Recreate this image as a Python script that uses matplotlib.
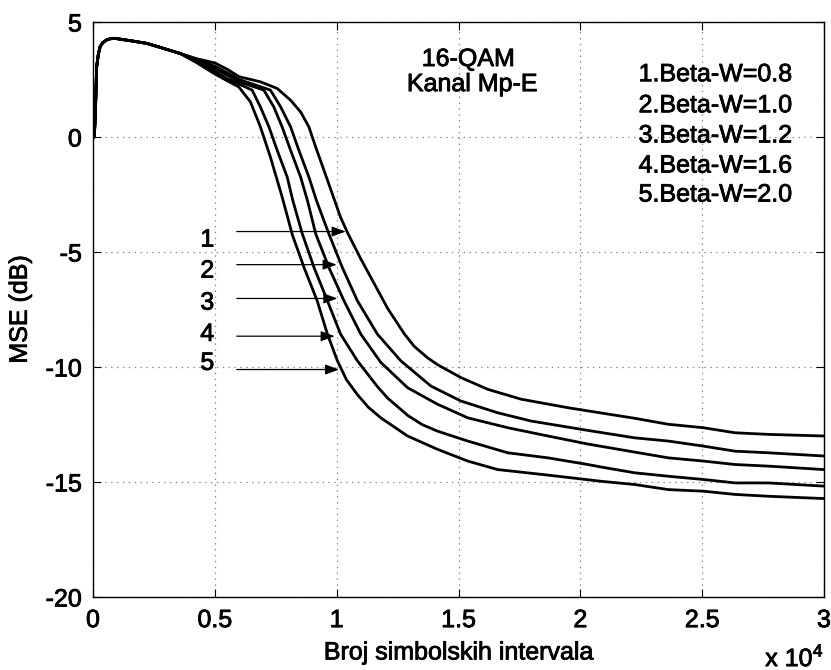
import matplotlib
matplotlib.use("Agg")
import matplotlib.pyplot as plt
import matplotlib.patheffects as pe
from matplotlib.text import Text

plt.rcParams['font.family'] = ['Liberation Sans', 'DejaVu Sans']
plt.rcParams['mathtext.fontset'] = 'custom'
plt.rcParams['mathtext.rm'] = 'Liberation Sans'

# x in units of 10^4 symbol intervals, y in dB
x_start = [0.0, 0.005, 0.009, 0.015, 0.022, 0.029, 0.04, 0.056, 0.07, 0.09, 0.12, 0.152,
           0.221, 0.29, 0.358]
y_start = [0.0, 0.0, 0.8, 3.05, 3.6, 3.92, 4.1, 4.22, 4.27, 4.29, 4.24, 4.19,
           4.07, 3.85, 3.63]

x1 = [0.427, 0.5, 0.55, 0.6, 0.687, 0.756, 0.811, 0.852, 0.886, 0.914, 0.948, 0.982,
      1.016, 1.044, 1.099, 1.140, 1.209, 1.277, 1.318, 1.373, 1.414, 1.51, 1.62, 1.757,
      1.949, 2.086, 2.223, 2.361, 2.505, 2.635, 2.772, 3.0]
y1 = [3.40, 3.22, 2.95, 2.62, 2.40, 2.11, 1.60, 1.09, 0.44, -0.44, -1.45, -2.47,
      -3.49, -4.15, -5.3, -6.1, -7.45, -8.55, -9.1, -9.6, -9.9, -10.46, -10.97, -11.4,
      -11.77, -12.0, -12.23, -12.49, -12.64, -12.86, -12.93, -13.0]

x2 = [0.427, 0.5, 0.55, 0.6, 0.728, 0.770, 0.811, 0.845, 0.886, 0.917, 0.968, 1.023,
      1.085, 1.167, 1.263, 1.387, 1.51, 1.661, 1.798, 2.004, 2.086, 2.223, 2.361, 2.505,
      2.635, 2.772, 3.0]
y2 = [3.36, 3.08, 2.8, 2.5, 2.04, 1.31, 0.44, -0.58, -1.74, -2.76, -4.21, -5.67,
      -7.12, -8.57, -9.73, -10.83, -11.48, -11.99, -12.35, -12.71, -12.85, -13.08,
      -13.22, -13.44, -13.66, -13.73, -13.87]

x3 = [0.427, 0.5, 0.55, 0.6, 0.701, 0.742, 0.776, 0.811, 0.852, 0.88, 0.914, 0.968,
      1.030, 1.099, 1.181, 1.291, 1.414, 1.538, 1.702, 1.867, 2.031, 2.086, 2.223, 2.361,
      2.505, 2.635, 2.772, 3.0]
y3 = [3.32, 2.98, 2.7, 2.4, 2.04, 1.31, 0.44, -0.58, -1.74, -2.76, -4.21, -5.67,
      -7.12, -8.57, -9.8, -10.9, -11.62, -12.21, -12.64, -13.0, -13.35, -13.45, -13.7,
      -13.95, -14.09, -14.24, -14.31, -14.46]

x4 = [0.427, 0.5, 0.55, 0.6, 0.653, 0.687, 0.722, 0.756, 0.797, 0.82, 0.859, 0.907,
      0.962, 1.016, 1.085, 1.167, 1.209, 1.291, 1.35, 1.414, 1.538, 1.702, 1.867, 2.031,
      2.086, 2.223, 2.361, 2.505, 2.635, 2.772, 3.0]
y4 = [3.27, 2.86, 2.55, 2.3, 2.04, 1.31, 0.44, -0.58, -1.74, -2.76, -4.21, -5.67,
      -7.12, -8.57, -9.73, -10.85, -11.35, -12.1, -12.5, -12.79, -13.22, -13.73, -13.95,
      -14.24, -14.35, -14.6, -14.75, -14.89, -15.04, -15.04, -15.18]

x5 = [0.427, 0.5, 0.55, 0.598, 0.646, 0.687, 0.728, 0.776, 0.818, 0.866, 0.920, 0.962,
      1.003, 1.04, 1.085, 1.13, 1.181, 1.291, 1.414, 1.538, 1.661, 1.867, 2.086, 2.223,
      2.361, 2.505, 2.635, 2.772, 3.0]
y5 = [3.22, 2.74, 2.45, 2.18, 1.53, 0.44, -0.87, -2.6, -4.25, -5.67, -7.12, -8.57,
      -9.73, -10.55, -11.2, -11.75, -12.21, -13.0, -13.58, -14.09, -14.46, -14.7, -14.97,
      -15.11, -15.33, -15.4, -15.54, -15.62, -15.72]

curves = [(x1, y1), (x2, y2), (x3, y3), (x4, y4), (x5, y5)]

legend_lines = ['1.Beta-W=0.8', '2.Beta-W=1.0', '3.Beta-W=1.2', '4.Beta-W=1.6', '5.Beta-W=2.0']
legend_y = [2.73, 1.38, 0.07, -1.24, -2.5]

# arrow labels: number, label y, arrow y, arrow tip x
arrow_nums = ['1', '2', '3', '4', '5']
label_y = [-4.46, -5.81, -7.2, -8.56, -9.82]
arrow_y = [-4.11, -5.55, -7.02, -8.66, -10.11]
arrow_tip = [1.037, 1.0, 1.003, 0.992, 1.01]

xticks = [0, 0.5, 1, 1.5, 2, 2.5, 3]
xticklabels = ['0', '0.5', '1', '1.5', '2', '2.5', '3']
yticks = [-20, -15, -10, -5, 0, 5]

fs = 18
fig = plt.figure(figsize=(8.31, 6.70), dpi=100)
ax = fig.add_axes([93/831, 73/670, 731/831, 575/670])

for xs, ys in curves:
    ax.plot(x_start + xs, y_start + ys, color='black', lw=2.0, solid_joinstyle='round')

ax.set_xlim(0, 3)
ax.set_ylim(-20, 5)
ax.set_xticks(xticks)
ax.set_xticklabels(xticklabels)
ax.set_yticks(yticks)
ax.set_yticklabels([str(v) for v in yticks])
ax.tick_params(direction='in', length=6, width=0.8, top=True, right=True,
               labelsize=fs, pad=8)
ax.grid(True, color='0.55', linestyle=(0, (1.2, 3.5)), lw=0.9)
for s in ax.spines.values():
    s.set_linewidth(1.0)

ax.set_xlabel('Broj simbolskih intervala', fontsize=fs, labelpad=6)
ax.set_ylabel('MSE (dB)', fontsize=fs, labelpad=10)
fig.text(824/831, 1 - 658/670, 'x 10$^{4}$', fontsize=fs, ha='right', va='center')

ax.text(1.54, 3.39, '16-QAM', fontsize=fs, ha='center', va='center')
ax.text(1.556, 2.30, 'Kanal Mp-E', fontsize=fs, ha='center', va='center')
for t, yy in zip(legend_lines, legend_y):
    ax.text(2.239, yy, t, fontsize=fs, ha='left', va='center')

for n, ly, ay, tip in zip(arrow_nums, label_y, arrow_y, arrow_tip):
    ax.text(0.469, ly, n, fontsize=fs, ha='center', va='center')
    ax.annotate('', xy=(tip, ay), xytext=(0.59, ay),
                arrowprops=dict(arrowstyle='-|>,head_length=0.6,head_width=0.22',
                                mutation_scale=14, color='black', lw=0.9,
                                shrinkA=0, shrinkB=0))

# slightly heavier glyphs, like the original export
for t in fig.findobj(Text):
    t.set_path_effects([pe.withStroke(linewidth=0.6, foreground='black')])

fig.savefig('out.png', dpi=100)
